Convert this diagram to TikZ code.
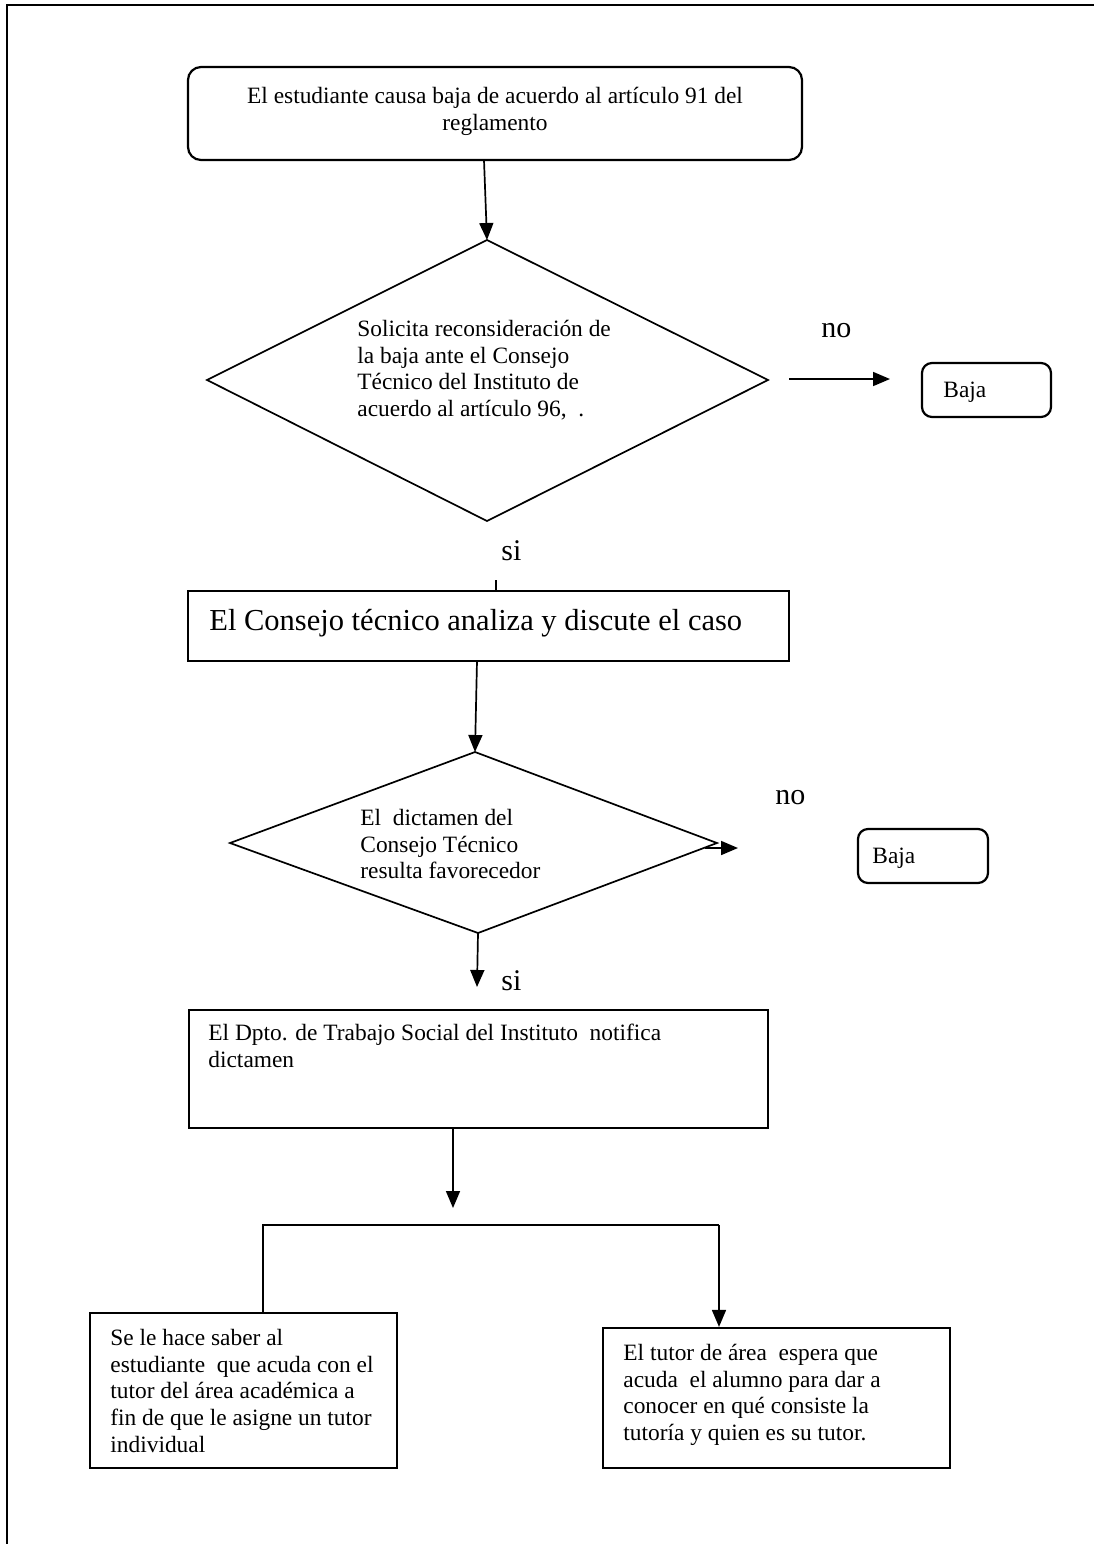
\documentclass[tikz,border=0pt]{standalone}
\usepackage{fontspec}
\setmainfont{Liberation Serif}
\usetikzlibrary{arrows.meta,fit}
\begin{document}
\begin{tikzpicture}[x=0.5pt,y=-0.5pt,
  frame/.style={draw, line width=1.1pt, inner sep=0pt},
  rframe/.style={frame, rounded corners=6.5pt},
  sframe/.style={frame, rounded corners=5pt},
  edge/.style={line width=0.85pt},
  arr/.style={edge, -{Triangle[length=8.5pt,width=7pt]}},
  dia/.style={line width=0.85pt},
  txt/.style={anchor=north west, inner sep=0pt, align=left, font=\fontsize{11.7}{13.35}\selectfont},
  sm/.style={anchor=base west, inner sep=0pt, font=\fontsize{11.7}{13.35}\selectfont},
  lab/.style={anchor=base west, inner sep=0pt, font=\fontsize{15}{18}\selectfont},
]
\useasboundingbox (0,0) rectangle (1094,1544);
% outer frame
\draw[line width=1.3pt] (7,1544) -- (7,5) -- (1094,5);

% box 1
\node[rframe, fit={(188,67) (802,160)}] (b1) {};
\node[anchor=north, inner sep=0pt, align=center, font=\fontsize{11.7}{13.35}\selectfont] (t1) at (495,84.3)
  {\strut El estudiante causa baja de acuerdo al artículo 91 del\\reglamento};

% diamond 1
\coordinate (d1t) at (487,240);
\coordinate (d1r) at (768,380);
\coordinate (d1b) at (487,521);
\coordinate (d1l) at (207,380);
\draw[dia] (d1t) -- (d1r) -- (d1b) -- (d1l) -- cycle;
\node[txt] (t2) at (357,317.3) {\strut Solicita reconsideración de\\la baja ante el Consejo\\Técnico del Instituto de\\acuerdo al artículo 96,\ \ .};
\coordinate (a1s) at (484,160);
\draw[arr] (a1s) -- (d1t);

% no 1
\node[lab] (no1) at (821,337) {no};
\coordinate (n1a) at (789,379);
\coordinate (n1b) at (890,379);
\draw[arr] (n1a) -- (n1b);
\node[sframe, fit={(922,363) (1051,417)}] (bj1) {};
\node[sm] (bt1) at (943,397) {Baja};

% si 1
\node[lab] (si1) at (501,560) {si};
\coordinate (tk) at (496,580);

% box 2
\node[frame, fit={(188,591) (789,661)}] (b2) {};
\node[anchor=base west, inner sep=0pt, font=\fontsize{15.25}{18}\selectfont] (t3) at (209,630) {El Consejo técnico analiza y discute el caso};
\draw[edge] (tk) -- (tk |- b2.north);

% diamond 2
\coordinate (d2t) at (475,752);
\coordinate (d2r) at (717,843);
\coordinate (d2b) at (478,933);
\coordinate (d2l) at (230,843);
\draw[dia] (d2t) -- (d2r) -- (d2b) -- (d2l) -- cycle;
\node[txt] (t4) at (360,806.3) {\strut El\ \ dictamen del\\Consejo Técnico\\resulta favorecedor};
\coordinate (a2s) at (477,661);
\draw[arr] (a2s) -- (d2t);

% no 2
\node[lab] (no2) at (775,804) {no};
\coordinate (n2a) at (705,848);
\coordinate (n2b) at (738,848);
\draw[arr] (n2a) -- (n2b);
\node[sframe, fit={(858,829) (988,883)}] (bj2) {};
\node[sm] (bt2) at (872,863) {Baja};

% si 2
\coordinate (s2e) at (477,987);
\draw[arr] (d2b) -- (s2e);
\node[lab] (si2) at (501,990) {si};

% box 3
\node[frame, fit={(189,1010) (768,1128)}] (b3) {};
\node[txt] (t5) at (208,1021.3) {\strut El Dpto. de Trabajo Social del Instituto\ \ notifica\\dictamen};
\coordinate (a3e) at (453,1208);
\draw[arr] (b3.south -| a3e) -- (a3e);

% split
\coordinate (sl) at (263,1225);
\coordinate (sr) at (719,1225);
\node[frame, fit={(90,1313) (397,1468)}] (lb) {};
\node[frame, fit={(603,1328) (950,1468)}] (rb) {};
\draw[edge] (sl |- lb.north) -- (sl) -- (sr);
\draw[arr] (sr) -- (sr |- rb.north);
\node[txt] (lt) at (110,1326.3) {\strut Se le hace saber al\\estudiante\ \ que acuda con el\\tutor del área académica a\\fin de que le asigne un tutor\\individual};
\node[txt] (rt) at (623,1341.3) {\strut El tutor de área\ \ espera que\\acuda\ \ el alumno para dar a\\conocer en qué consiste la\\tutoría y quien es su tutor.};
\end{tikzpicture}
\end{document}
